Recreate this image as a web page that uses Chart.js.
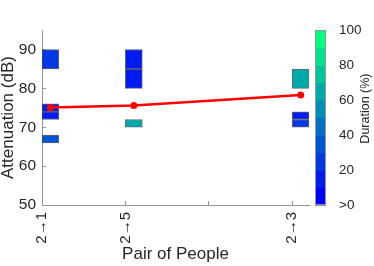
<!DOCTYPE html>
<html>
<head>
<meta charset="utf-8">
<script src="https://cdn.jsdelivr.net/npm/chart.js@4"></script>
<style>
html,body{margin:0;padding:0;background:#fff;}
canvas{display:block;}
</style>
</head>
<body>
<canvas id="c" width="374" height="266"></canvas>
<script>
// ---- data ----
const categories = ['2\u21921', '2\u21925', '2\u21923'];
const categoryX = [1, 2, 4];
const xTickValues = [1, 2, 3, 4];
const meanAttenuation = [75.1, 75.6, 78.3];
const blockCategory = [0, 0, 0, 0, 1, 1, 1, 2, 2, 2];
const blockLow = [85, 74, 72, 66, 85, 80, 70, 80, 72, 70];
const blockHigh = [90, 76, 74, 68, 90, 85, 72, 85, 74, 72];
const blockDuration = [25, 15, 15, 35, 15, 15, 65, 65, 15, 25];
const yTickValues = [50, 60, 70, 80, 90];
const colorbarTickValues = [0, 20, 40, 60, 80, 100];
const colorbarTickLabels = ['>0', '20', '40', '60', '80', '100'];
const colorLevels = 10;

// winter colormap, discrete levels
function levelColor(k) {
  const t = k / (colorLevels - 1);
  return 'rgb(0,' + Math.round(255 * t) + ',' + Math.round(255 * (1 - 0.5 * t)) + ')';
}
function durationColor(d) {
  const k = Math.min(colorLevels - 1, Math.floor(d / (100 / colorLevels)));
  return levelColor(k);
}

const OFFSET = 0.1; // blocks drawn to the right of each tick
const FONT = "'Liberation Sans', Arial, sans-serif";
const AXIS = 'rgb(150,150,150)';
const TXT = '#262626';

const blockData = blockCategory.map((c, i) => ({ x: categoryX[c] + OFFSET, y: [blockLow[i], blockHigh[i]] }));
const lineData = categoryX.map((x, i) => ({ x: x + OFFSET, y: meanAttenuation[i] }));

const colorbarPlugin = {
  id: 'colorbar',
  afterDraw(chart) {
    const s = chart.scales.y2;
    const ctx = chart.ctx;
    const x0 = s.left + 6, w = 11;
    ctx.save();
    for (let k = 0; k < colorLevels; k++) {
      const yTop = s.getPixelForValue((k + 1) * 100 / colorLevels);
      const yBot = s.getPixelForValue(k * 100 / colorLevels);
      ctx.fillStyle = levelColor(k);
      ctx.fillRect(x0, yTop, w, yBot - yTop + 0.5);
    }
    const top = s.getPixelForValue(100), bot = s.getPixelForValue(0);
    ctx.strokeStyle = AXIS;
    ctx.lineWidth = 1;
    ctx.strokeRect(x0 + 0.5, top + 0.5, w - 1, bot - top - 1);
    // colorbar label
    ctx.translate(366, (top + bot) / 2 - 9);
    ctx.rotate(-Math.PI / 2);
    ctx.fillStyle = TXT;
    ctx.font = '12.5px ' + FONT;
    ctx.textAlign = 'center';
    ctx.textBaseline = 'middle';
    ctx.fillText('Duration (%)', 0, 0);
    ctx.restore();
  }
};

new Chart(document.getElementById('c'), {
  type: 'bar',
  data: {
    datasets: [
      {
        type: 'line',
        data: lineData,
        borderColor: 'rgb(255,0,0)',
        backgroundColor: 'rgb(255,0,0)',
        borderWidth: 2.5,
        pointRadius: 3.5,
        pointBorderWidth: 0,
        pointBackgroundColor: 'rgb(255,0,0)',
        tension: 0,
        xAxisID: 'x', yAxisID: 'y'
      },
      {
        type: 'bar',
        data: blockData,
        backgroundColor: blockDuration.map(durationColor),
        borderColor: 'rgba(50,50,60,0.75)',
        borderWidth: 1,
        borderSkipped: false,
        barThickness: 17,
        xAxisID: 'x', yAxisID: 'y'
      }
    ]
  },
  options: {
    responsive: false,
    animation: false,
    layout: { padding: { top: 5, left: 0, right: 0, bottom: 0 } },
    plugins: { legend: { display: false }, tooltip: { enabled: false } },
    scales: {
      x: {
        type: 'linear',
        min: 1, max: 4.2,
        offset: false,
        grid: { display: true, drawOnChartArea: false, drawTicks: true, tickLength: -4, color: AXIS, offset: false },
        border: { display: true, color: AXIS, width: 1 },
        afterBuildTicks(axis) { axis.ticks = xTickValues.map(v => ({ value: v })); },
        afterFit(axis) { axis.height = 61; },
        ticks: {
          autoSkip: false,
          maxRotation: 90, minRotation: 90,
          padding: 11,
          color: TXT,
          font: { family: FONT, size: 15 },
          callback(v) { const i = categoryX.indexOf(v); return i >= 0 ? categories[i] : ''; }
        },
        title: { display: true, text: 'Pair of People', color: TXT, font: { family: FONT, size: 17, lineHeight: 1.2 }, padding: { top: 0, bottom: 1 } }
      },
      y: {
        type: 'linear',
        position: 'left',
        min: 50, max: 95,
        grid: { display: true, drawOnChartArea: false, drawTicks: true, tickLength: -4, color: AXIS },
        border: { display: true, color: AXIS, width: 1 },
        afterBuildTicks(axis) { axis.ticks = yTickValues.map(v => ({ value: v })); },
        afterFit(axis) { axis.width = 42; },
        ticks: { padding: 10, color: TXT, font: { family: FONT, size: 15.5 } },
        title: { display: true, text: 'Attenuation (dB)', color: TXT, font: { family: FONT, size: 17, lineHeight: 1 }, padding: { top: 0, bottom: 0 } }
      },
      y2: {
        type: 'linear',
        position: 'right',
        min: 0, max: 100,
        grid: { display: false },
        border: { display: false },
        afterBuildTicks(axis) { axis.ticks = colorbarTickValues.map(v => ({ value: v })); },
        afterFit(axis) { axis.width = 65; },
        ticks: {
          padding: 22, color: TXT, font: { family: FONT, size: 13.5 },
          callback(v) { const i = colorbarTickValues.indexOf(v); return i >= 0 ? colorbarTickLabels[i] : ''; }
        }
      }
    }
  },
  plugins: [colorbarPlugin]
});
</script>
</body>
</html>
